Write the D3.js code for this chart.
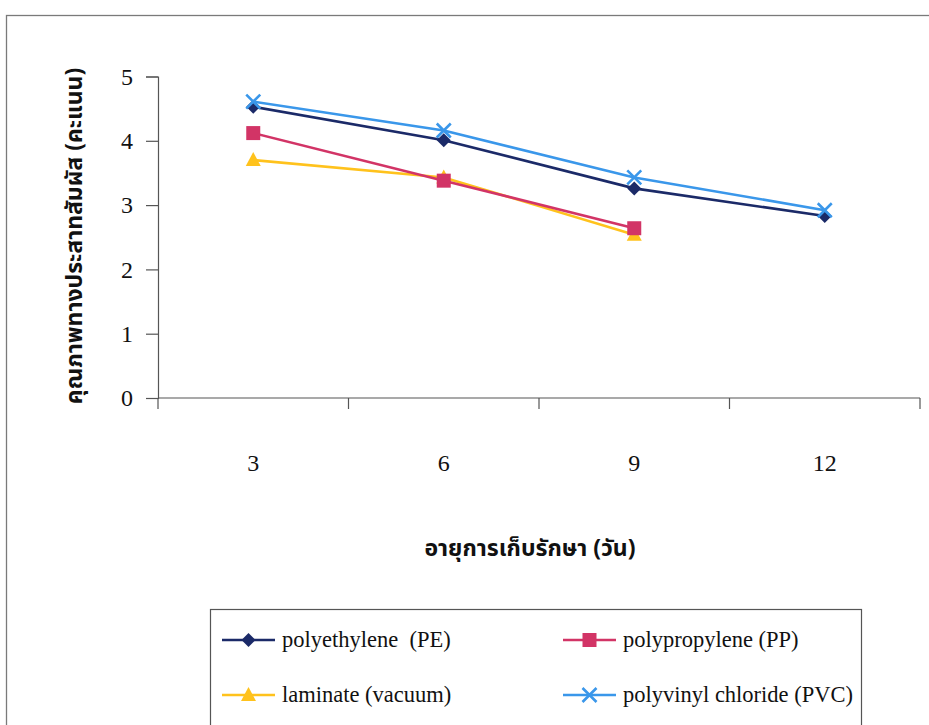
<!DOCTYPE html>
<html>
<head>
<meta charset="utf-8">
<script src="https://cdn.jsdelivr.net/npm/d3@7"></script>
<style>
  html, body { margin: 0; padding: 0; background: #ffffff; }
  svg { display: block; }
  text { white-space: pre; }
</style>
</head>
<body>
<script>
// Storage days (categories) and sensory scores per packaging type
const days = ["3", "6", "9", "12"];
const pe  = [4.53, 4.01, 3.26, 2.83];
const pp  = [4.12, 3.38, 2.64];
const lam = [3.70, 3.43, 2.54];
const pvc = [4.61, 4.16, 3.43, 2.92];
const seriesNames = ["polyethylene  (PE)", "polypropylene (PP)", "laminate (vacuum)", "polyvinyl chloride (PVC)"];
const yTicks = [0, 1, 2, 3, 4, 5];
const yTitle = "คุณภาพทางประสาทสัมผัส (คะแนน)";
const xTitle = "อายุการเก็บรักษา (วัน)";

const W = 929, H = 725;
const svg = d3.select("body").append("svg").attr("width", W).attr("height", H);

const serif = "'Liberation Serif', 'Times New Roman', serif";
const thai = "'Noto Sans Thai', 'Noto Sans Thai UI', Loma, Garuda, 'Tlwg Typo', Sarabun, 'Noto Sans', sans-serif";

// outer chart frame
svg.append("rect").attr("x", 6.5).attr("y", 15.5).attr("width", W + 10).attr("height", H + 10)
  .attr("fill", "#fff").attr("stroke", "#7a7a7a").attr("stroke-width", 1.3);

const plotLeft = 158, plotRight = 920, plotTop = 76.5, plotBottom = 398;
const x = d3.scaleBand().domain(days).range([plotLeft, plotRight]).paddingInner(0).paddingOuter(0);
const y = d3.scaleLinear().domain([0, 5]).range([plotBottom, plotTop]);
const cx = d => x(d) + x.bandwidth() / 2;

// y axis
const yAxis = svg.append("g").attr("transform", `translate(${plotLeft},0)`)
  .call(d3.axisLeft(y).tickValues(yTicks).tickSize(12).tickPadding(13).tickFormat(d3.format("d")));
yAxis.select(".domain").attr("stroke", "#555").attr("stroke-width", 1.2);
yAxis.selectAll(".tick line").attr("stroke", "#555").attr("stroke-width", 1.2);
yAxis.selectAll(".tick text").attr("font-family", serif).attr("font-size", 24).attr("fill", "#111");

// x axis: ticks between categories, labels below
const xAxisG = svg.append("g").attr("transform", `translate(0,${plotBottom})`);
xAxisG.append("line").attr("x1", plotLeft).attr("x2", plotRight).attr("y1", 0).attr("y2", 0)
  .attr("stroke", "#555").attr("stroke-width", 1.2);
const bounds = days.map(d => x(d) + x.bandwidth()).concat([plotLeft]);
xAxisG.selectAll("line.tk").data(bounds).enter().append("line").attr("class", "tk")
  .attr("x1", d => d).attr("x2", d => d).attr("y1", 0).attr("y2", 11)
  .attr("stroke", "#555").attr("stroke-width", 1.2);
xAxisG.selectAll("text").data(days).enter().append("text")
  .attr("x", d => cx(d)).attr("y", 73).attr("text-anchor", "middle")
  .attr("font-family", serif).attr("font-size", 24).attr("fill", "#111").text(d => d);

// axis titles
svg.append("text").attr("transform", "translate(82,236) rotate(-90)")
  .attr("text-anchor", "middle").attr("font-family", thai).attr("font-weight", "bold")
  .attr("font-size", 23).attr("fill", "#111").text(yTitle);
svg.append("text").attr("x", 530).attr("y", 556).attr("text-anchor", "middle")
  .attr("font-family", thai).attr("font-weight", "bold")
  .attr("font-size", 23).attr("fill", "#111").text(xTitle);

// marker drawers
const markers = {
  diamond: (g, c) => g.append("path").attr("d", "M0,-7L7,0L0,7L-7,0Z").attr("fill", c),
  square: (g, c) => g.append("rect").attr("x", -7).attr("y", -7).attr("width", 14).attr("height", 14).attr("fill", c),
  triangle: (g, c) => g.append("path").attr("d", "M0,-8L7.5,6L-7.5,6Z").attr("fill", c),
  cross: (g, c) => g.append("path").attr("d", "M-7,-7L7,7M7,-7L-7,7").attr("stroke", c).attr("stroke-width", 2.6).attr("fill", "none")
};

const series = [
  { name: seriesNames[0], values: pe,  color: "#1b2a68", marker: "diamond" },
  { name: seriesNames[1], values: pp,  color: "#d23466", marker: "square" },
  { name: seriesNames[2], values: lam, color: "#ffc21c", marker: "triangle" },
  { name: seriesNames[3], values: pvc, color: "#3a97ea", marker: "cross" }
];

const line = d3.line().x((d, i) => cx(days[i])).y(d => y(d));
// draw order so the upper series sit on top
const order = [2, 1, 0, 3];
order.forEach(k => {
  const s = series[k];
  svg.append("path").datum(s.values).attr("d", line)
    .attr("fill", "none").attr("stroke", s.color).attr("stroke-width", 2.6);
  s.values.forEach((v, i) => {
    const g = svg.append("g").attr("transform", `translate(${cx(days[i])},${y(v)})`);
    markers[s.marker](g, s.color);
  });
});

// legend
const lg = svg.append("g");
lg.append("rect").attr("x", 210.5).attr("y", 609.5).attr("width", 651).attr("height", 130)
  .attr("fill", "#fff").attr("stroke", "#555").attr("stroke-width", 1.2);
const pos = [[222, 640], [563, 640], [222, 695], [563, 695]];
series.forEach((s, k) => {
  const [lx, ly] = pos[k];
  lg.append("line").attr("x1", lx).attr("x2", lx + 53).attr("y1", ly).attr("y2", ly)
    .attr("stroke", s.color).attr("stroke-width", 2.6);
  const g = lg.append("g").attr("transform", `translate(${lx + 26.5},${ly})`);
  markers[s.marker](g, s.color);
  lg.append("text").attr("x", lx + 60).attr("y", ly + 7).attr("font-family", serif)
    .attr("font-size", 22.5).attr("fill", "#111").text(s.name);
});
</script>
</body>
</html>
